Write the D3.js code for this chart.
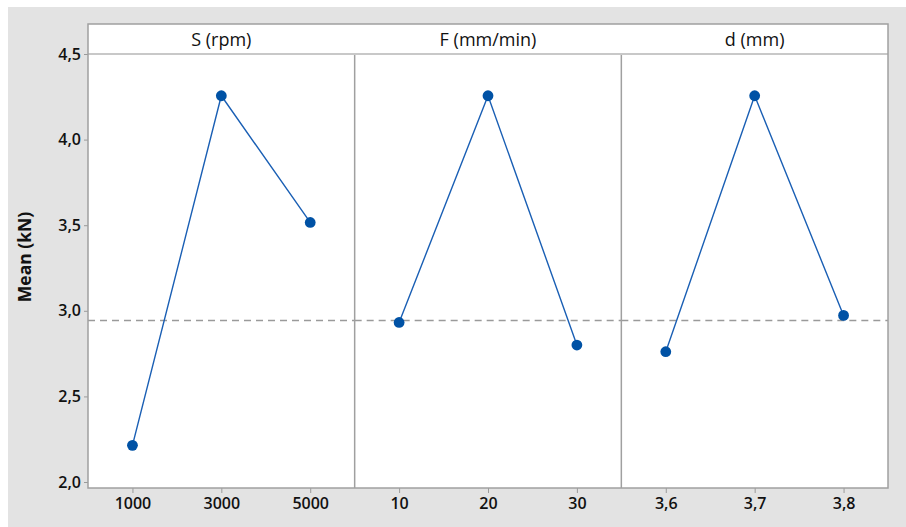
<!DOCTYPE html>
<html>
<head>
<meta charset="utf-8">
<script src="https://cdn.jsdelivr.net/npm/d3@7"></script>
<style>
  html, body { margin: 0; padding: 0; background: #fff; }
  svg { display: block; }
  svg text { font-family: "Open Sans", "Noto Sans", sans-serif; }
</style>
</head>
<body>
<svg id="chart" width="906" height="527"></svg>
<script>
// Main effects: mean force for each factor level
const factorNames = ["S (rpm)", "F (mm/min)", "d (mm)"];
const sLevels = ["1000", "3000", "5000"];
const fLevels = ["10", "20", "30"];
const dLevels = ["3,6", "3,7", "3,8"];
const sMeans = [2.214, 4.256, 3.516];
const fMeans = [2.932, 4.256, 2.800];
const dMeans = [2.761, 4.256, 2.973];
const yTicks = [2.0, 2.5, 3.0, 3.5, 4.0, 4.5];
const referenceMean = 2.943;

const factors = [
  { name: factorNames[0], levels: sLevels, means: sMeans },
  { name: factorNames[1], levels: fLevels, means: fMeans },
  { name: factorNames[2], levels: dLevels, means: dMeans }
];

const svg = d3.select("#chart");
const W = 906, H = 527;
const frameL = 88, frameR = 888, frameT = 24, stripH = 30, frameB = 488;
const plotTop = frameT + stripH;
const panelW = (frameR - frameL) / factors.length;
const FONT = '"Open Sans", "Noto Sans", sans-serif';

// figure background
svg.append("rect").attr("x", 8).attr("y", 7).attr("width", W - 8).attr("height", H - 7)
  .attr("fill", "#e3e3e3");

// panel area
svg.append("rect").attr("x", frameL).attr("y", frameT).attr("width", frameR - frameL).attr("height", frameB - frameT)
  .attr("fill", "#fff");

const y = d3.scaleLinear().domain([1.965, 4.5]).range([frameB, plotTop]);

// y axis
const yAxis = svg.append("g").attr("transform", `translate(${frameL},0)`)
  .call(d3.axisLeft(y).tickValues(yTicks).tickSize(4).tickPadding(3)
    .tickFormat(d => d3.format(".1f")(d).replace(".", ",")));
yAxis.attr("font-family", FONT);
yAxis.select(".domain").remove();
yAxis.selectAll(".tick line").attr("stroke", "#9a9a9a");
yAxis.selectAll(".tick text").attr("fill", "#111").style("font-size", "16px").style("font-weight", 600);

svg.append("text")
  .attr("transform", `translate(31,257) rotate(-90)`)
  .attr("text-anchor", "middle")
  .style("font-size", "17.5px").style("font-weight", 700).attr("fill", "#111")
  .text("Mean (kN)");

const line = d3.line();

factors.forEach((f, i) => {
  const x0 = frameL + i * panelW, x1 = x0 + panelW;
  const x = d3.scalePoint().domain(f.levels).range([x0, x1]).padding(0.5);
  const g = svg.append("g");

  // strip header text
  g.append("text")
    .attr("x", (x0 + x1) / 2).attr("y", frameT + 22)
    .attr("text-anchor", "middle")
    .style("font-size", "18px").attr("fill", "#111")
    .text(f.name);

  // x axis ticks
  const xa = svg.append("g").attr("transform", `translate(0,${frameB})`)
    .call(d3.axisBottom(x).tickSize(5).tickPadding(5));
  xa.attr("font-family", FONT);
  xa.select(".domain").remove();
  xa.selectAll(".tick line").attr("stroke", "#9a9a9a");
  xa.selectAll(".tick text").attr("fill", "#111").style("font-size", "16px").style("font-weight", 600);

  // reference mean line
  g.append("line")
    .attr("x1", x0).attr("x2", x1)
    .attr("y1", y(referenceMean)).attr("y2", y(referenceMean))
    .attr("stroke", "#9a9a9a").attr("stroke-width", 1.5)
    .attr("stroke-dasharray", "7,5");

  const pts = f.levels.map((l, j) => [x(l), y(f.means[j])]);
  g.append("path").attr("d", line(pts))
    .attr("fill", "none").attr("stroke", "#1a5fb4").attr("stroke-width", 1.4);
  g.selectAll("circle").data(pts).join("circle")
    .attr("cx", d => d[0]).attr("cy", d => d[1]).attr("r", 5.4)
    .attr("fill", "#0052a5");

  // panel divider
  if (i > 0) {
    svg.append("line").attr("x1", x0).attr("x2", x0)
      .attr("y1", plotTop).attr("y2", frameB)
      .attr("stroke", "#a0a0a0").attr("stroke-width", 1.5);
  }
});

// strip bottom edge and outer frame
svg.append("line").attr("x1", frameL).attr("x2", frameR).attr("y1", plotTop).attr("y2", plotTop)
  .attr("stroke", "#c8c8c8").attr("stroke-width", 2);
svg.append("rect").attr("x", frameL).attr("y", frameT).attr("width", frameR - frameL).attr("height", frameB - frameT)
  .attr("fill", "none").attr("stroke", "#a0a0a0").attr("stroke-width", 1.5);
</script>
</body>
</html>
